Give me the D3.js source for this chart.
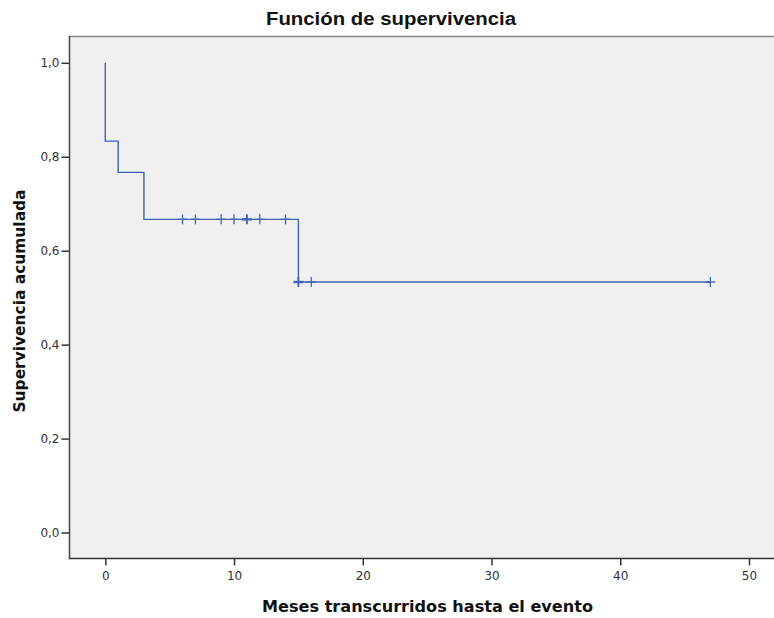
<!DOCTYPE html>
<html>
<head>
<meta charset="utf-8">
<script src="https://cdn.jsdelivr.net/npm/d3@7/dist/d3.min.js"></script>
<style>
  html, body { margin: 0; padding: 0; background: #ffffff; }
  svg { display: block; }
</style>
</head>
<body>
<svg id="chart" width="774" height="618"></svg>
<script>
// Kaplan–Meier step curve: times where the estimate changes and the level after each change
const stepTimes = [0, 0, 1, 3, 15, 47];
const survival  = [1.0, 0.8333, 0.7667, 0.6667, 0.5333, 0.5333];
// Censored observations (time, number censored at that time)
const censorTimes  = [6, 7, 9, 10, 11, 12, 14, 15, 16, 47];
const censorCounts = [1, 1, 1, 1, 2, 1, 1, 2, 1, 1];
// Axis ticks
const xTicks = [0, 10, 20, 30, 40, 50];
const yTicks = [0, 0.2, 0.4, 0.6, 0.8, 1.0];

const svg = d3.select("#chart");
const frame = { left: 69.5, right: 776, top: 36.5, bottom: 558.5 };

const x = d3.scaleLinear().domain([0, 50]).range([105.3, 749]);
const y = d3.scaleLinear().domain([0, 1]).range([532.5, 62.8]);

const blue = "#4262b4";
const fmt = d => d3.format(".1f")(d).replace(".", ",");

// Plot area
svg.append("rect")
  .attr("x", frame.left).attr("y", frame.top)
  .attr("width", frame.right - frame.left).attr("height", frame.bottom - frame.top)
  .attr("fill", "#f0f0f0");
svg.append("line")
  .attr("x1", frame.left).attr("x2", frame.right)
  .attr("y1", frame.top).attr("y2", frame.top)
  .attr("stroke", "#8a8a8a").attr("stroke-width", 1.5);

// Axes
const yAxis = d3.axisLeft(y).tickValues(yTicks).tickFormat(fmt).tickSize(8).tickPadding(2);
const xAxis = d3.axisBottom(x).tickValues(xTicks).tickFormat(d3.format("d")).tickSize(7).tickPadding(6);

const gy = svg.append("g").attr("transform", `translate(${frame.left},0)`).call(yAxis);
const gx = svg.append("g").attr("transform", `translate(0,${frame.bottom})`).call(xAxis);
[gx, gy].forEach(g => {
  g.select(".domain").remove();
  g.selectAll(".tick line").attr("stroke", "#333").attr("stroke-width", 1.5);
  g.selectAll(".tick text")
    .attr("fill", "#333")
    .style("font-family", "'DejaVu Sans', Tahoma, sans-serif")
    .style("font-size", "12px");
});
svg.append("line")
  .attr("x1", frame.left).attr("x2", frame.left)
  .attr("y1", frame.top - 0.75).attr("y2", frame.bottom + 0.75)
  .attr("stroke", "#444").attr("stroke-width", 1.5);
svg.append("line")
  .attr("x1", frame.left).attr("x2", frame.right)
  .attr("y1", frame.bottom).attr("y2", frame.bottom)
  .attr("stroke", "#333").attr("stroke-width", 1.5);

// Survival step line
const pts = stepTimes.map((t, i) => [x(t), y(survival[i])]);
svg.append("path")
  .attr("d", d3.line().curve(d3.curveStepAfter)(pts))
  .attr("fill", "none")
  .attr("stroke", blue)
  .attr("stroke-width", 1.4);

// Survival level at a given time (right-continuous step)
function levelAt(t) {
  let s = survival[0];
  stepTimes.forEach((st, i) => { if (st <= t) s = survival[i]; });
  return s;
}

// Censor crosses
const cg = svg.append("g");
censorTimes.forEach((t, i) => {
  const cx = x(t), cy = y(levelAt(t));
  const heavy = censorCounts[i] > 1;
  cg.append("line")
    .attr("x1", cx).attr("x2", cx).attr("y1", cy - 5).attr("y2", cy + 5)
    .attr("stroke", blue).attr("stroke-width", heavy ? 1.8 : 1.3);
  cg.append("line")
    .attr("x1", cx - 5).attr("x2", cx + 5).attr("y1", cy).attr("y2", cy)
    .attr("stroke", blue).attr("stroke-width", heavy ? 2.4 : 1.3);
});

// Titles
svg.append("text")
  .attr("x", 391).attr("y", 25)
  .attr("text-anchor", "middle")
  .attr("textLength", 250).attr("lengthAdjust", "spacingAndGlyphs")
  .style("font-family", "'Liberation Sans Narrow', 'Liberation Sans', Arial, sans-serif")
  .style("font-size", "18px").style("font-weight", "bold")
  .attr("fill", "#111")
  .text("Función de supervivencia");

svg.append("text")
  .attr("x", 427.5).attr("y", 612)
  .attr("text-anchor", "middle")
  .attr("textLength", 331).attr("lengthAdjust", "spacingAndGlyphs")
  .style("font-family", "'DejaVu Sans', Tahoma, sans-serif")
  .style("font-size", "16px").style("font-weight", "bold")
  .attr("fill", "#111")
  .text("Meses transcurridos hasta el evento");

svg.append("text")
  .attr("transform", "translate(25,301) rotate(-90)")
  .attr("text-anchor", "middle")
  .attr("textLength", 223).attr("lengthAdjust", "spacingAndGlyphs")
  .style("font-family", "'DejaVu Sans', Tahoma, sans-serif")
  .style("font-size", "16px").style("font-weight", "bold")
  .attr("fill", "#111")
  .text("Supervivencia acumulada");
</script>
</body>
</html>
